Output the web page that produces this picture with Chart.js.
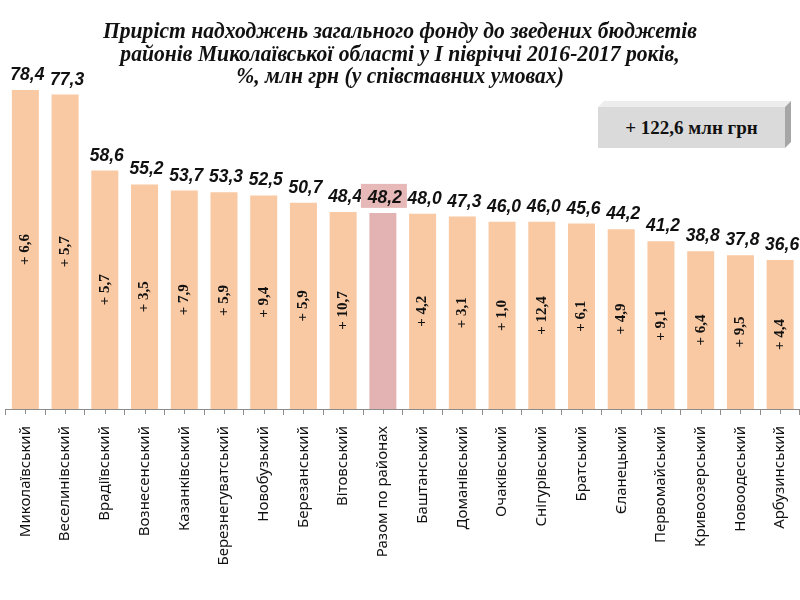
<!DOCTYPE html>
<html>
<head>
<meta charset="utf-8">
<script src="https://cdn.jsdelivr.net/npm/chart.js@4"></script>
<style>
  body { margin: 0; background: #fff; }
  #wrap { position: relative; width: 800px; height: 600px; }
  #title {
    position: absolute; left: 0; top: 20px; width: 800px;
    text-align: center; font: italic bold 23px "Liberation Serif", serif;
    line-height: 22.5px; color: #111;
    transform: scaleX(0.94);
  }
  #badge {
    position: absolute; left: 598px; top: 107px; width: 187px; height: 41px;
    background: #dadada;
    font: bold 19px "Liberation Serif", serif; color: #111;
    text-align: center; line-height: 41px;
  }
  #badge-top {
    position: absolute; left: 598px; top: 101px; width: 193px; height: 6px;
    background: #ededed;
    clip-path: polygon(6px 0, 100% 0, 187px 100%, 0 100%);
  }
  #badge-side {
    position: absolute; left: 785px; top: 101px; width: 6px; height: 47px;
    background: #a6a6a6;
    clip-path: polygon(0 6px, 100% 0, 100% 41px, 0 100%);
  }
</style>
</head>
<body>
<div id="wrap">
  <canvas id="myChart" width="800" height="600"></canvas>
  <div id="title">Приріст надходжень загального фонду до зведених бюджетів<br>районів Миколаївської області у І півріччі 2016-2017 років,<br>%, млн грн (у співставних умовах)</div>
  <div id="badge-top"></div>
  <div id="badge-side"></div>
  <div id="badge">+ 122,6 млн грн</div>
</div>
<script>
const districts = [
  "Миколаївський", "Веселинівський", "Врадіївський", "Вознесенський",
  "Казанківський", "Березнегуватський", "Новобузький", "Березанський",
  "Вітовський", "Разом по районах", "Баштанський", "Доманівський",
  "Очаківський", "Снігурівський", "Братський", "Єланецький",
  "Первомайський", "Кривоозерський", "Новоодеський", "Арбузинський"
];
const growthPct = [
  78.4, 77.3, 58.6, 55.2, 53.7, 53.3, 52.5, 50.7, 48.4, 48.2,
  48.0, 47.3, 46.0, 46.0, 45.6, 44.2, 41.2, 38.8, 37.8, 36.6
];
const growthMln = [
  "+ 6,6", "+ 5,7", "+ 5,7", "+ 3,5", "+ 7,9", "+ 5,9", "+ 9,4", "+ 5,9",
  "+ 10,7", "", "+ 4,2", "+ 3,1", "+ 1,0", "+ 12,4", "+ 6,1", "+ 4,9",
  "+ 9,1", "+ 6,4", "+ 9,5", "+ 4,4"
];
const totalIndex = 9;

const barColors = growthPct.map((v, i) => (i === totalIndex ? "#e3b3b3" : "#f9c9a4"));

const fmt = (n) => n.toFixed(1).replace(".", ",");

const barLabels = {
  id: "barLabels",
  afterDatasetsDraw(chart) {
    const ctx = chart.ctx;
    const meta = chart.getDatasetMeta(0);
    meta.data.forEach((bar, i) => {
      const text = fmt(growthPct[i]);
      ctx.save();
      ctx.font = "italic bold 17.5px 'Liberation Sans', Arial, sans-serif";
      ctx.textAlign = "center";
      ctx.textBaseline = "bottom";
      if (i === totalIndex) {
        ctx.fillStyle = "#e6b9b8";
        ctx.fillRect(bar.x - 22, bar.y - 29, 46, 24);
      }
      ctx.fillStyle = "#111";
      ctx.fillText(text, bar.x + 2, bar.y - 6);
      ctx.restore();

      if (growthMln[i]) {
        ctx.save();
        ctx.translate(bar.x, (bar.y + bar.base) / 2);
        ctx.rotate(-Math.PI / 2);
        ctx.font = "bold 15px 'Liberation Serif', serif";
        ctx.textAlign = "center";
        ctx.textBaseline = "middle";
        ctx.fillStyle = "#111";
        ctx.fillText(growthMln[i], 0, 0);
        ctx.restore();
      }
    });
  },
};

const centerTicks = {
  id: "centerTicks",
  afterDraw(chart) {
    const ctx = chart.ctx;
    const x = chart.scales.x;
    ctx.save();
    ctx.strokeStyle = "#8c8c8c";
    ctx.lineWidth = 1;
    districts.forEach((d, i) => {
      const px = Math.round(x.getPixelForValue(i)) + 0.5;
      ctx.beginPath();
      ctx.moveTo(px, x.top);
      ctx.lineTo(px, x.top + 5);
      ctx.stroke();
    });
    ctx.restore();
  },
};

const ctx = document.getElementById("myChart");
new Chart(ctx, {
  type: "bar",
  data: {
    labels: districts,
    datasets: [
      {
        data: growthPct,
        backgroundColor: barColors,
        borderWidth: 0,
        barPercentage: 0.68,
        categoryPercentage: 1,
      },
    ],
  },
  options: {
    responsive: false,
    animation: false,
    layout: { padding: { top: 83.5, left: 5.5, right: -3.5, bottom: 0 } },
    plugins: { legend: { display: false }, tooltip: { enabled: false } },
    scales: {
      y: { display: false, min: 0, max: 80 },
      x: {
        afterFit: (s) => {
          s.height = 191;
          s.paddingLeft = 0;
          s.paddingRight = 0;
        },
        border: { display: true, color: "#8c8c8c", width: 1 },
        grid: { display: true, drawOnChartArea: false, tickLength: 6, color: "#8c8c8c" },
        ticks: {
          color: "#111",
          font: { family: "'Noto Sans', sans-serif", size: 15 },
          minRotation: 90,
          maxRotation: 90,
          padding: 11,
          autoSkip: false,
        },
      },
    },
  },
  plugins: [barLabels, centerTicks],
});
</script>
</body>
</html>
